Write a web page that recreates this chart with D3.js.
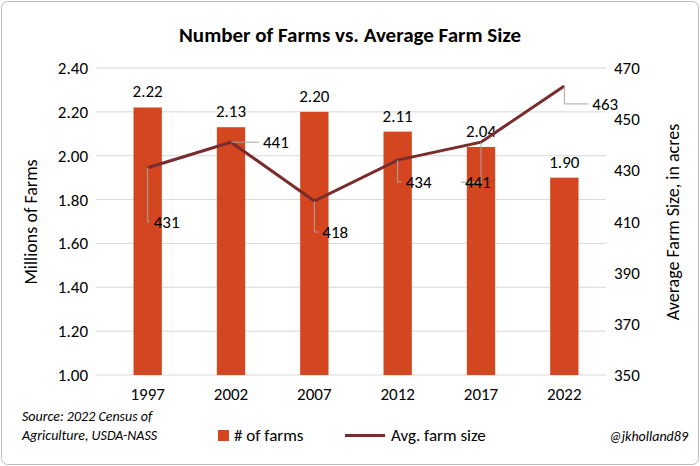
<!DOCTYPE html>
<html><head><meta charset="utf-8">
<script src="https://cdn.jsdelivr.net/npm/d3@7"></script>
<style>body{margin:0;background:#fff;font-family:Calibri,"Liberation Sans",Arial,sans-serif}</style>
</head><body>
<svg id="chart" width="700" height="466"></svg>
<script>
const years = ['1997', '2002', '2007', '2012', '2017', '2022'];
const farms = [2.22, 2.13, 2.20, 2.11, 2.04, 1.90];
const avgSize = [431, 441, 418, 434, 441, 463];
const leftTicks = [1.00, 1.20, 1.40, 1.60, 1.80, 2.00, 2.20, 2.40];
const rightTicks = [350, 370, 390, 410, 430, 450, 470];
// label offsets for the line values (leader lines)
const labelOff = [[2, 54], [28, 0], [4, 31], [4, 22], [-20, 40], [24, 18]];

const svg = d3.select('#chart');
const barColor = '#D4461F', lineColor = '#7A2B2B';

svg.append('rect').attr('x', 1.5).attr('y', 1.5).attr('width', 697).attr('height', 463)
  .attr('rx', 6).attr('fill', '#fff').attr('stroke', '#bdbdbd').attr('stroke-width', 1);

svg.append('text').attr('x', 350).attr('y', 42).attr('text-anchor', 'middle')
  .style('font-weight', 'bold').style('font-size', '21px').text('Number of Farms vs. Average Farm Size');

let x = d3.scaleBand().domain(years).range([106, 606]).paddingInner(0.66).paddingOuter(0.33);
let yL = d3.scaleLinear().domain([1, 2.4]).range([375, 68]);
let yR = d3.scaleLinear().domain([350, 470]).range([375, 68]);

svg.append('g').selectAll('line').data(leftTicks).join('line')
  .attr('x1', 96).attr('x2', 606).attr('y1', d => yL(d)).attr('y2', d => yL(d))
  .attr('stroke', '#d9d9d9');

svg.append('g').selectAll('text').data(leftTicks).join('text')
  .attr('x', 88).attr('y', d => yL(d) + 6).attr('text-anchor', 'end')
  .style('font-size', '17px').text(d => d.toFixed(2));
svg.append('g').selectAll('text').data(rightTicks).join('text')
  .attr('x', 614).attr('y', d => yR(d) + 6)
  .style('font-size', '17px').text(d => d);

svg.append('g').selectAll('text').data(years).join('text')
  .attr('x', d => x(d) + x.bandwidth() / 2).attr('y', 400).attr('text-anchor', 'middle')
  .style('font-size', '17px').text(d => d);

svg.append('text').attr('transform', 'translate(37,222) rotate(-90)').attr('text-anchor', 'middle')
  .style('font-size', '18px').text('Millions of Farms');
svg.append('text').attr('transform', 'translate(679,222) rotate(-90)').attr('text-anchor', 'middle')
  .style('font-size', '18px').text('Average Farm Size, in acres');

svg.append('g').selectAll('rect').data(farms).join('rect')
  .attr('x', (d, i) => x(years[i])).attr('width', x.bandwidth())
  .attr('y', d => yL(d)).attr('height', d => yL(1) - yL(d)).attr('fill', barColor);

svg.append('g').selectAll('text').data(farms).join('text')
  .attr('x', (d, i) => x(years[i]) + x.bandwidth() / 2).attr('y', d => yL(d) - 10)
  .attr('text-anchor', 'middle').style('font-size', '17px').text(d => d.toFixed(2));

const cx = i => x(years[i]) + x.bandwidth() / 2;
const line = d3.line().x((d, i) => cx(i)).y(d => yR(d));
svg.append('path').datum(avgSize).attr('d', line).attr('fill', 'none')
  .attr('stroke', lineColor).attr('stroke-width', 3);

const lbl = svg.append('g');
avgSize.forEach((v, i) => {
  const px = cx(i), py = yR(v);
  const [dx, dy] = labelOff[i];
  const lx = px + dx, ly = py + dy;
  lbl.append('polyline')
    .attr('points', dy > 5 ? `${px},${py} ${px},${ly} ${lx},${ly}` : `${px},${py} ${lx},${ly}`)
    .attr('fill', 'none').attr('stroke', '#a6a6a6').attr('stroke-width', 1);
  lbl.append('text').attr('x', lx + 4).attr('y', ly + 6).style('font-size', '17px').text(v);
});

svg.append('text').attr('x', 22).attr('y', 421).style('font-style', 'italic')
  .style('font-size', '14px').text('Source: 2022 Census of');
svg.append('text').attr('x', 22).attr('y', 440).style('font-style', 'italic')
  .style('font-size', '14px').text('Agriculture, USDA-NASS');

svg.append('rect').attr('x', 218).attr('y', 430).attr('width', 11).attr('height', 11).attr('fill', barColor);
svg.append('text').attr('x', 234).attr('y', 441).style('font-size', '17px').text('# of farms');
svg.append('line').attr('x1', 345).attr('x2', 385).attr('y1', 435.5).attr('y2', 435.5)
  .attr('stroke', lineColor).attr('stroke-width', 3);
svg.append('text').attr('x', 391).attr('y', 441).style('font-size', '17px').text('Avg. farm size');

svg.append('text').attr('x', 688).attr('y', 441).attr('text-anchor', 'end').style('font-style', 'italic')
  .style('font-size', '14px').text('@jkholland89');
</script>
</body></html>
